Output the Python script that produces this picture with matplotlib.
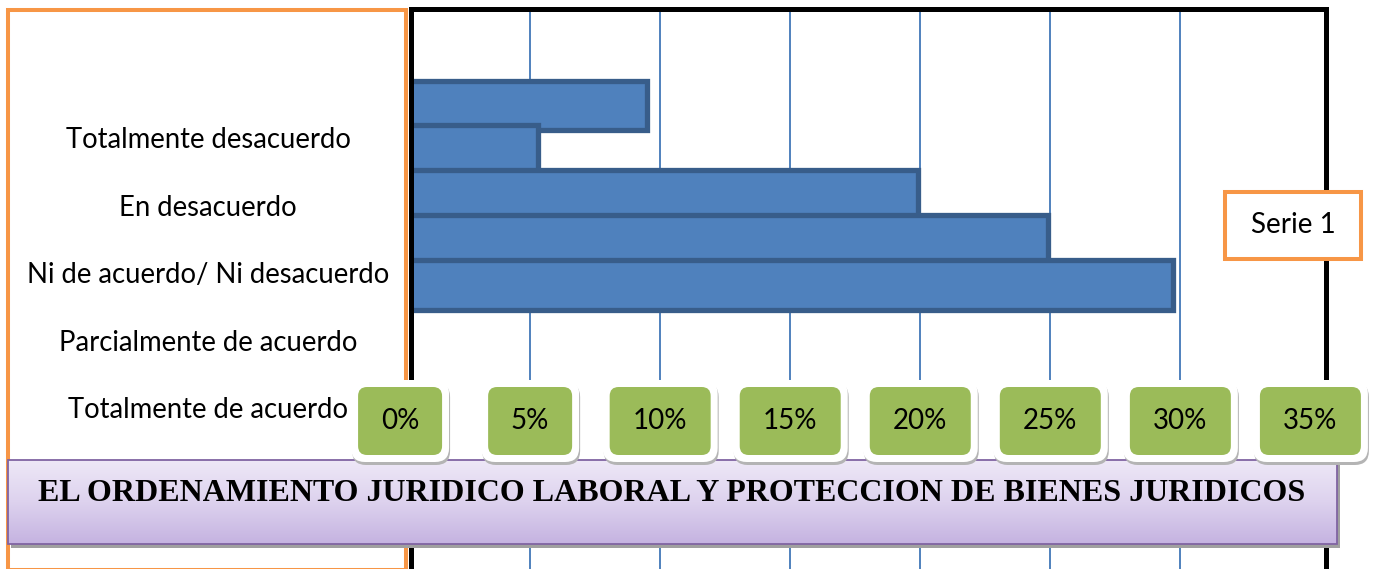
import numpy as np
import matplotlib.pyplot as plt
from matplotlib.patches import Rectangle, FancyBboxPatch
from matplotlib.colors import LinearSegmentedColormap

# datos del grafico
categories = ['Totalmente desacuerdo', 'En desacuerdo', 'Ni de acuerdo/ Ni desacuerdo',
              'Parcialmente de acuerdo', 'Totalmente de acuerdo']
values = [9.5, 5.3, 19.9, 24.9, 29.7]
ticks = [0, 5, 10, 15, 20, 25, 30, 35]
tick_labels = [str(t) + '%' for t in ticks]
series_name = 'Serie 1'
title = 'EL ORDENAMIENTO JURIDICO LABORAL Y PROTECCION DE BIENES JURIDICOS'

W, H = 1375, 569
sans = ['Lato', 'DejaVu Sans']

fig = plt.figure(figsize=(W / 100, H / 100), dpi=100)

# area de grafico (coordenadas en pixeles para la caja)
left, right, top = 411, 1325.5, 8.5
ax = fig.add_axes([left / W, 0, (right - left) / W, (H - top) / H])
ax.set_xlim(0.42, 35.58)
ax.set_ylim(10.32, -2.16)
ax.barh(np.arange(len(values)), values, height=1.11, color='#4F81BD',
        edgecolor='#385D8A', linewidth=3.8, zorder=2)
ax.set_xticks(ticks[1:-1])
ax.set_yticks([])
ax.grid(axis='x', color='#4F81BD', linewidth=1.4)
ax.set_axisbelow(True)
ax.tick_params(length=0, labelbottom=False)
for s in ['left', 'right', 'top']:
    ax.spines[s].set_linewidth(3.6)
    ax.spines[s].set_color('black')
ax.spines['bottom'].set_visible(False)

# capa superior con las decoraciones
over = fig.add_axes([0, 0, 1, 1], zorder=5)
over.patch.set_visible(False)
over.axis('off')

# caja naranja de las categorias
over.add_patch(Rectangle((8, 10), 398.5, 559.5, fill=False, ec='#F79646', lw=2.9, zorder=1))
for i, c in enumerate(categories):
    over.text(208, 140 + 67.5 * i, c, ha='center', va='center', fontsize=19.8,
              family=sans, zorder=2)

# leyenda
over.add_patch(Rectangle((1225, 192), 136, 67, fc='white', ec='#F79646', lw=2.9, zorder=2))
over.text(1293, 225, series_name, ha='center', va='center', fontsize=20, family=sans, zorder=3)

# titulo con degradado
grad = np.linspace(0, 1, 100).reshape(-1, 1)
cmap = LinearSegmentedColormap.from_list('lila', ['#EEE8F7', '#DDD2EE', '#C5B3E1'])
over.add_patch(Rectangle((11, 463), 1329, 85, fc='#A0A0A0', ec='none', zorder=2))
over.imshow(grad, extent=[8, 1337, 544, 460], aspect='auto', cmap=cmap, zorder=3)
over.add_patch(Rectangle((8, 460), 1329, 84, fill=False, ec='#8064A2', lw=1.3, zorder=4))
over.text(672, 493, title, ha='center', va='center', fontsize=23, fontweight='bold',
          family=['Liberation Serif', 'DejaVu Serif'], zorder=5)

# etiquetas del eje x en cajas verdes
for t, lab in zip(ticks, tick_labels):
    px = ax.transData.transform((t, 0))[0]
    w = 50 + 17 * len(lab)
    h = 68
    cy = 421
    over.add_patch(FancyBboxPatch((px - w / 2 - 7 + 1, cy - h / 2 - 7 + 3), w + 14, h + 14,
                                  boxstyle='round,pad=0,rounding_size=14',
                                  fc='#B4B4B4', ec='none', zorder=6))
    over.add_patch(FancyBboxPatch((px - w / 2 - 7, cy - h / 2 - 7), w + 14, h + 14,
                                  boxstyle='round,pad=0,rounding_size=14',
                                  fc='white', ec='none', zorder=7))
    over.add_patch(FancyBboxPatch((px - w / 2, cy - h / 2), w, h,
                                  boxstyle='round,pad=0,rounding_size=9',
                                  fc='#9BBB59', ec='none', zorder=8))
    over.text(px, cy, lab, ha='center', va='center', fontsize=20, family=sans, zorder=9)

over.set_xlim(0, W)
over.set_ylim(H, 0)

fig.savefig('out.png', dpi=100)
